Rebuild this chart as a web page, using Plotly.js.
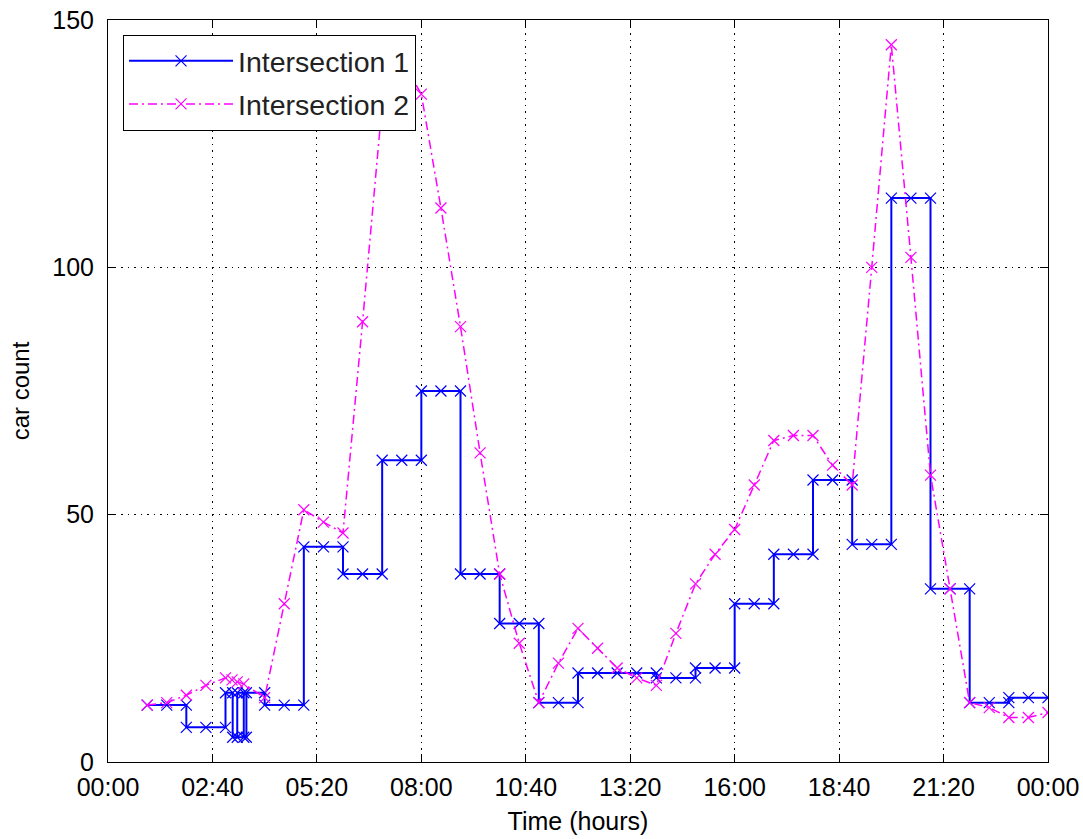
<!DOCTYPE html>
<html>
<head>
<meta charset="utf-8">
<script src="https://cdn.plot.ly/plotly-3.0.1.min.js"></script>
<style>html,body{margin:0;padding:0;background:#fff;}#chart{width:1083px;height:839px;}</style>
</head>
<body>
<div id="chart"></div>
<script>
// Intersection 1 (stair-like hourly counts, sampled every 30 min)
const times1 = ["01:00","01:30","02:00","02:00","02:30","03:00","03:00","03:11","03:11","03:28","03:28","03:18","03:18","03:32","03:32","04:00","04:00","04:30","05:00","05:00","05:30","06:00","06:00","06:30","07:00","07:00","07:30","08:00","08:00","08:30","09:00","09:00","09:30","10:00","10:00","10:30","11:00","11:00","11:30","12:00","12:00","12:30","13:00","13:30","14:00","14:00","14:30","15:00","15:00","15:30","16:00","16:00","16:30","17:00","17:00","17:30","18:00","18:00","18:30","19:00","19:00","19:30","20:00","20:00","20:30","21:00","21:00","21:30","22:00","22:00","22:30","23:00","23:00","23:30","24:00"];
const counts1 = [11.5,11.5,11.5,7,7,7,14,14,5,5,14,14,5,5,14,14,11.5,11.5,11.5,43.5,43.5,43.5,38,38,38,61,61,61,75,75,75,38,38,38,28,28,28,12,12,12,18,18,18,18,18,17,17,17,19,19,19,32,32,32,42,42,42,57,57,57,44,44,44,114,114,114,35,35,35,12,12,12,13,13,13];

// Intersection 2 (30-min samples)
const times2 = ["01:00","01:30","02:00","02:30","03:00","03:10","03:18","03:28","04:00","04:30","05:00","05:30","06:00","06:30","07:00","07:30","08:00","08:30","09:00","09:30","10:00","10:30","11:00","11:30","12:00","12:30","13:00","13:30","14:00","14:30","15:00","15:30","16:00","16:30","17:00","17:30","18:00","18:30","19:00","19:30","20:00","20:30","21:00","21:30","22:00","22:30","23:00","23:30","24:00"];
const counts2 = [11.5,12,13.5,15.5,17,16.6,16.2,15.8,13,32,51,48.5,46.3,89,133,142,135,112,88,62.5,38,24,12,20,27,23,19,17,15.5,26,36,42,47,56,65,66,66,60,56,100,145,102,58,35,12,11,9,9,10];

const seriesNames = ["Intersection 1","Intersection 2"];
const xTitle = "Time (hours)";
const yTitle = "car count";

function pad(n){return (n<10?"0":"")+n;}
function toDate(hhmm){
  const p = hhmm.split(":");
  const total = parseInt(p[0],10)*60 + parseInt(p[1],10);
  const day = 1 + Math.floor(total/1440);
  const rem = total % 1440;
  return "2000-01-" + pad(day) + " " + pad(Math.floor(rem/60)) + ":" + pad(rem%60) + ":00";
}

const FONT = '"Liberation Sans", Arial, Helvetica, sans-serif';

const traces = [
  {
    x: times1.map(toDate), y: counts1, name: seriesNames[0], type: "scatter", mode: "lines+markers",
    line: {color: "#0000ff", width: 2},
    marker: {symbol: "x-thin", size: 11, color: "#0000ff", line: {color: "#0000ff", width: 1.2}},
    legendgroup: "a"
  },
  {
    x: times2.map(toDate), y: counts2, name: seriesNames[1], type: "scatter", mode: "lines+markers",
    line: {color: "#ff00ff", width: 1.5, dash: "9px,4px,2px,4px"},
    marker: {symbol: "x-thin", size: 11, color: "#ff00ff", line: {color: "#ff00ff", width: 1.2}},
    legendgroup: "b"
  }
];

const axisCommon = {
  showline: true, linecolor: "#000", linewidth: 1, mirror: "ticks",
  ticks: "inside", ticklen: 8, tickcolor: "#000", tickwidth: 1,
  showgrid: true, gridcolor: "#000", gridwidth: 1, griddash: "1.5px,5px",
  zeroline: false, tickfont: {family: FONT, size: 25, color: "#000"},
  automargin: false
};

const layout = {
  width: 1083, height: 839,
  margin: {l: 108, r: 35, t: 20, b: 77},
  paper_bgcolor: "#fff", plot_bgcolor: "#fff",
  font: {family: FONT, color: "#000"},
  showlegend: true,
  legend: {
    x: 0.016, y: 0.98, xanchor: "left", yanchor: "top",
    bgcolor: "#fff", bordercolor: "#000", borderwidth: 1,
    font: {family: FONT, size: 28.5, color: "#222"},
    traceorder: "grouped", tracegroupgap: 3, itemwidth: 104
  },
  xaxis: Object.assign({}, axisCommon, {
    type: "date",
    range: ["2000-01-01 00:00:00", "2000-01-02 00:00:00"],
    tick0: "2000-01-01 00:00:00", dtick: 9600000, tickformat: "%H:%M",
    ticklabelstandoff: 3,
    title: {text: xTitle, font: {family: FONT, size: 25, color: "#000"}, standoff: 12}
  }),
  yaxis: Object.assign({}, axisCommon, {
    range: [0, 150], tick0: 0, dtick: 50, ticklabelstandoff: 8,
    title: {text: yTitle, font: {family: FONT, size: 24, color: "#000"}, standoff: 15}
  })
};

Plotly.newPlot("chart", traces, layout, {displayModeBar: false, staticPlot: true});
</script>
</body>
</html>
